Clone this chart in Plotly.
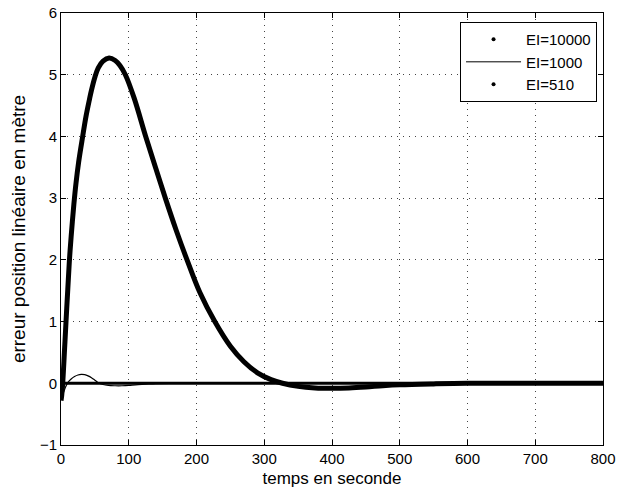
import plotly.graph_objects as go

# EI=510 (thick curve)
t_510 = [0, 1, 2.5, 5, 7.4, 10, 12.3, 15, 19, 22, 26, 32, 37, 42, 45, 50, 55, 62, 71, 80,
         87, 95, 108, 125, 140, 154, 170, 186, 205, 227, 250, 270, 290, 310, 327, 350, 375,
         400, 425, 450, 475, 500, 550, 600, 700, 800]
e_510 = [-0.28, -0.2, 0.0, 0.5, 1.0, 1.52, 1.97, 2.38, 2.9, 3.23, 3.58, 4.0, 4.33, 4.6,
         4.75, 4.96, 5.11, 5.22, 5.27, 5.23, 5.15, 5.0, 4.62, 4.0, 3.48, 3.0, 2.48, 2.0, 1.47,
         1.0, 0.6, 0.35, 0.17, 0.06, 0.0, -0.05, -0.075, -0.08, -0.075, -0.06, -0.04, -0.025,
         -0.01, 0.0, 0.0, 0.0]

# EI=1000 (thin curve)
t_1000 = [0, 3, 6, 10, 15, 20, 25, 30, 35, 40, 45, 50, 55, 62, 70, 80, 90, 100, 110, 125,
          140, 160, 200, 800]
e_1000 = [-0.27, -0.17, -0.08, 0.01, 0.07, 0.11, 0.135, 0.145, 0.14, 0.12, 0.09, 0.05, 0.01,
          -0.02, -0.035, -0.04, -0.04, -0.035, -0.025, -0.015, -0.005, 0.0, 0.0, 0.0]

# EI=10000 (dotted, settles almost immediately)
t_10000 = [0, 1, 2, 3, 5, 800]
e_10000 = [-0.27, -0.12, -0.03, 0.0, 0.0, 0.0]

x_ticks = [0, 100, 200, 300, 400, 500, 600, 700, 800]
y_ticks = [-1, 0, 1, 2, 3, 4, 5, 6]

FONT = "Liberation Sans, Arial, Helvetica, sans-serif"

fig = go.Figure()
fig.add_trace(go.Scatter(x=t_10000, y=e_10000, mode="lines",
                         line=dict(color="black", width=3), showlegend=False))
fig.add_trace(go.Scatter(x=t_1000, y=e_1000, mode="lines", line_shape="spline",
                         line=dict(color="black", width=1.2), showlegend=False))
fig.add_trace(go.Scatter(x=t_510, y=e_510, mode="lines", line_shape="spline",
                         line=dict(color="black", width=5), showlegend=False))

# legend entries
fig.add_trace(go.Scatter(x=[None], y=[None], mode="markers", name="EI=10000",
                         marker=dict(color="black", size=4)))
fig.add_trace(go.Scatter(x=[None], y=[None], mode="lines", name="EI=1000",
                         line=dict(color="black", width=1)))
fig.add_trace(go.Scatter(x=[None], y=[None], mode="markers", name="EI=510",
                         marker=dict(color="black", size=4)))

axis_common = dict(
    showline=True, linecolor="black", linewidth=1, mirror="ticks",
    ticks="inside", ticklen=5, tickcolor="black",
    showgrid=True, gridcolor="#444444", gridwidth=1, griddash="1px,5px",
    zeroline=False, tickfont=dict(family=FONT, size=15, color="black"),
    automargin=False, ticklabeloverflow="allow",
)

fig.update_xaxes(range=[0, 800], tickvals=x_ticks,
                 title=dict(text="temps en seconde", font=dict(family=FONT, size=17, color="black"),
                            standoff=6),
                 **axis_common)
fig.update_yaxes(range=[-1, 6], tickvals=y_ticks,
                 title=dict(text="erreur position linéaire en mètre",
                            font=dict(family=FONT, size=19, color="black"), standoff=9),
                 **axis_common)

fig.update_layout(
    width=621, height=494,
    margin=dict(l=61, r=18, t=13, b=49),
    paper_bgcolor="white", plot_bgcolor="white",
    font=dict(family=FONT, size=15, color="black"),
    legend=dict(x=0.989, y=0.979, xanchor="right", yanchor="top",
                bgcolor="white", bordercolor="black", borderwidth=1,
                font=dict(family=FONT, size=15, color="black"),
                tracegroupgap=0, itemwidth=55),
)

fig.write_html("out.html", config={"displayModeBar": False},
               post_script="document.body.style.margin='0';document.body.style.overflow='hidden';")
